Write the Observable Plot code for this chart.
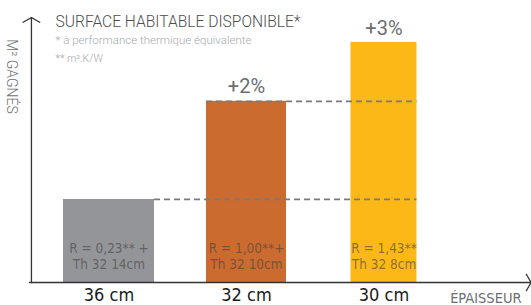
<!DOCTYPE html>
<html><head><meta charset="utf-8">
<script src="https://cdn.jsdelivr.net/npm/d3@7"></script>
<script src="https://cdn.jsdelivr.net/npm/@observablehq/plot@0.6"></script>
<style>
html,body{margin:0;padding:0;background:#fff;}
#chart svg{display:block;}
</style>
</head><body><div id="chart"></div>
<script>
const categories = ["36 cm", "32 cm", "30 cm"];
const gains = [0.346, 0.755, 1.0];
const gainLabels = ["", "+2%", "+3%"];
const barNotes = ["R = 0,23** +\nTh 32 14cm", "R = 1,00**+\nTh 32 10cm", "R = 1,43**\nTh 32 8cm"];
const colors = ["#939598", "#cc6b2f", "#fbb817"];
const title = "SURFACE HABITABLE DISPONIBLE*";
const note1 = "* à performance thermique équivalente";
const note2 = "** m².K/W";
const xTitle = "ÉPAISSEUR";
const yTitle = "M² GAGNÉS";

// layout (style) constants
const barFrac = [0.662, 0.582, 0.48];
const cond = "'Liberation Sans Narrow','DejaVu Sans Condensed','Roboto Condensed',sans-serif";
const light = "Roboto, 'Open Sans', sans-serif";

const data = categories.map((c, i) => ({
  i, c, v: gains[i], color: colors[i], note: barNotes[i], gl: gainLabels[i],
  x1: i - barFrac[i] / 2, x2: i + barFrac[i] / 2
}));
const last = data[data.length - 1];
const dashes = data.slice(0, -1).map((d, k) => ({
  y: d.v, x1: k === 0 ? d.x2 : d.x1, x2: last.x2
}));

const chart = Plot.plot({
  width: 531, height: 305,
  margin: 0,
  x: {type: "linear", domain: [-0.789, 3.073], range: [0, 531], axis: null},
  y: {domain: [0, 1], range: [282, 42], axis: null},
  marks: [
    Plot.rectY(data, {x1: "x1", x2: "x2", y1: 0, y2: "v", fill: "color"}),
    Plot.ruleY(dashes, {y: "y", x1: "x1", x2: "x2", stroke: "#7a7a7a", strokeWidth: 1.8, strokeDasharray: "6,4"}),
    Plot.arrow([{x: -0.578, y: 0, x2: 3.07, y2: 0}], {x1: "x", y1: "y", x2: "x2", y2: "y2", stroke: "#333", strokeWidth: 1.3, headLength: 11, headAngle: 120, insetEnd: 0, insetStart: 0}),
    Plot.arrow([{x: -0.564, y: 0, x2: -0.564, y2: 1.104}], {x1: "x", y1: "y", x2: "x2", y2: "y2", stroke: "#333", strokeWidth: 1.3, headLength: 11, headAngle: 120, insetEnd: 0, insetStart: 0}),
    Plot.text(data, {x: "i", y: "v", text: "gl", lineAnchor: "bottom", dy: -8, fontSize: 20, fill: "#6d6e71", fontFamily: light}),
    Plot.text(data, {x: "i", y: 0, text: "note", lineAnchor: "middle", dy: -27, fontSize: 13.5, lineHeight: 1.2, fill: "#404040", fillOpacity: 0.6, fontFamily: cond}),
    Plot.text(data, {x: "i", y: 0, text: "c", lineAnchor: "bottom", dy: 18.5, fontSize: 18, fill: "#1a1a1a", fontFamily: cond}),
    Plot.text([title], {frameAnchor: "top-left", dx: 55, dy: 15, fontSize: 15.6, fill: "#4d4d4d", fontFamily: light, fontWeight: 300}),
    Plot.text([note1], {frameAnchor: "top-left", dx: 55, dy: 35, fontSize: 11.5, fill: "#a7a9ac", fontFamily: light, fontWeight: 300}),
    Plot.text([note2], {frameAnchor: "top-left", dx: 55, dy: 54, fontSize: 10.5, fill: "#a7a9ac", fontFamily: light, fontWeight: 300}),
    Plot.text([xTitle], {frameAnchor: "bottom-right", dx: -10, dy: -3, fontSize: 14.5, fill: "#6d6e71", fontFamily: cond}),
    Plot.text([yTitle], {frameAnchor: "top-left", dx: 16, dy: 76, rotate: 90, textAnchor: "middle", fontSize: 14, fill: "#6d6e71", fontFamily: light, fontWeight: 300})
  ]
});
document.getElementById("chart").appendChild(chart);
</script>
</body></html>
